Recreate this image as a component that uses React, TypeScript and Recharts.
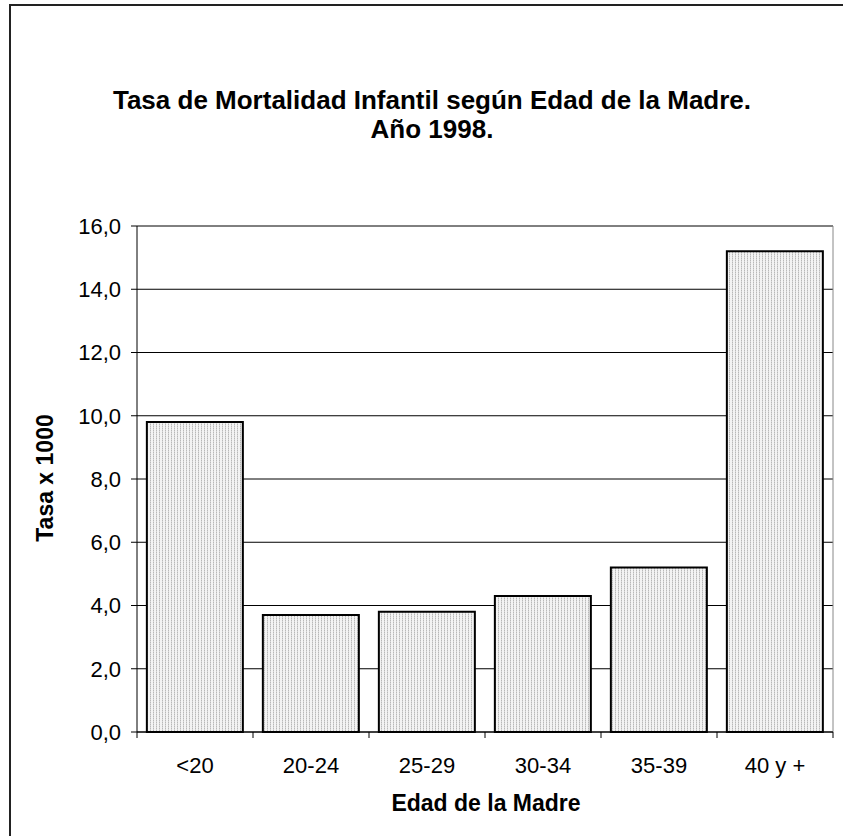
import { BarChart, Bar, XAxis, YAxis, CartesianGrid } from 'recharts'

const edades = ['<20', '20-24', '25-29', '30-34', '35-39', '40 y +']
const tasas = [9.8, 3.7, 3.8, 4.3, 5.2, 15.2]
const yTicks = [0, 2, 4, 6, 8, 10, 12, 14, 16]

const data = edades.map((edad, i) => ({ edad, tasa: tasas[i] }))

const font = '"Liberation Sans", Arial, sans-serif'

const EdadTick = (props: any) => {
    const { x, y, payload, index } = props
    const off = payload.offset || 0
    const axisY = y - 6
    return (
        <g>
            <line x1={x - off} x2={x - off} y1={axisY} y2={axisY + 6} stroke="#000" />
            {index === edades.length - 1 && (
                <line x1={x + off} x2={x + off} y1={axisY} y2={axisY + 6} stroke="#000" />
            )}
            <text x={x} y={y + 35} textAnchor="middle" fontSize={22} fill="#000" fontFamily={font}>
                {payload.value}
            </text>
        </g>
    )
}

const App = () => {
    return (
        <div style={{ position: 'absolute', left: 0, top: 0, width: 843, height: 836, overflow: 'hidden', background: '#fff' }}>
            <div style={{ position: 'absolute', left: 9, top: 4, width: 900, height: 900, border: '2px solid #222' }} />
            <div style={{ position: 'absolute', left: 0, width: 864, top: 86, textAlign: 'center', fontFamily: font, fontWeight: 'bold', fontSize: 26, lineHeight: '29px', color: '#000' }}>
                Tasa de Mortalidad Infantil según Edad de la Madre.
                <br />
                Año 1998.
            </div>
            <div style={{ position: 'absolute', left: 286, width: 400, top: 790, textAlign: 'center', fontFamily: font, fontWeight: 'bold', fontSize: 23, lineHeight: '26px', color: '#000' }}>
                Edad de la Madre
            </div>
            <div style={{ position: 'absolute', left: 45 - 100, width: 200, top: 465, textAlign: 'center', transform: 'rotate(-90deg)', fontFamily: font, fontWeight: 'bold', fontSize: 23, lineHeight: '26px', color: '#000' }}>
                Tasa x 1000
            </div>
            <BarChart
                width={843}
                height={836}
                data={data}
                margin={{ top: 226, right: 10, bottom: 74, left: 67 }}
                barCategoryGap="8.5%"
            >
                <defs>
                    <pattern id="puntos" width="3" height="2" patternUnits="userSpaceOnUse">
                        <rect width="3" height="2" fill="#f3f3f3" />
                        <rect x="0" y="0" width="1" height="1" fill="#b8b8b8" />
                        <rect x="0" y="1" width="1" height="1" fill="#d6d6d6" />
                    </pattern>
                </defs>
                <CartesianGrid stroke="#000" vertical={false} />
                <CartesianGrid stroke="#888" horizontal={false} verticalPoints={[833]} />
                <XAxis
                    dataKey="edad"
                    axisLine={{ stroke: '#000' }}
                    tickLine={false}
                    tickSize={6}
                    tickMargin={0}
                    height={30}
                    tick={<EdadTick />}
                    interval={0}
                />
                <YAxis
                    domain={[0, 16]}
                    ticks={yTicks}
                    width={70}
                    axisLine={{ stroke: '#000' }}
                    tickLine={{ stroke: '#000' }}
                    tickSize={6}
                    tickMargin={10}
                    tick={{ fill: '#000', fontSize: 22, fontFamily: font }}
                    tickFormatter={(v: number) => v.toFixed(1).replace('.', ',')}
                    interval={0}
                />
                <Bar dataKey="tasa" fill="url(#puntos)" stroke="#000" strokeWidth={2} isAnimationActive={false} />
            </BarChart>
        </div>
    )
}

export default App
